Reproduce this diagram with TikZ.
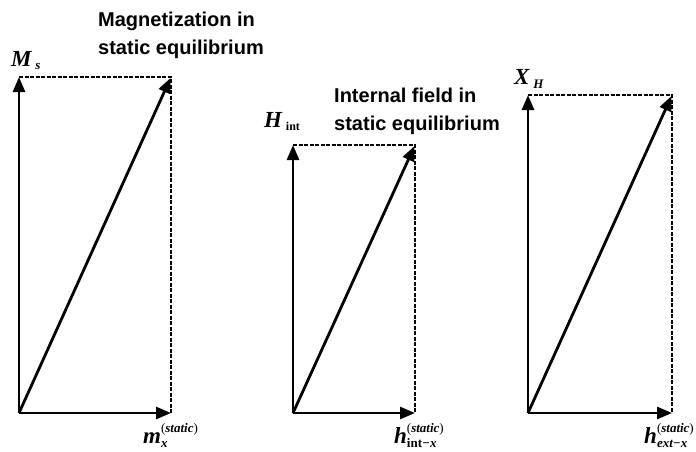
\documentclass[tikz,border=0pt]{standalone}
\usepackage{fontspec}
\setmainfont{Liberation Sans}
\newfontfamily\mfont{Liberation Serif}
\usetikzlibrary{arrows.meta}
\newcommand{\mybi}[1]{{\mfont\bfseries\itshape #1}}
\newcommand{\mybr}[1]{{\mfont\bfseries #1}}
\newcommand{\myrp}[1]{{\mfont #1}}
\newcommand{\bigsz}{\fontsize{23}{23}\selectfont}
\newcommand{\smsz}{\fontsize{13}{13}\selectfont}
\begin{document}
\begin{tikzpicture}[x=1pt,y=-1pt,
  ax/.style={line width=2.8pt,-{Triangle[length=15pt,width=12pt]}},
  dg/.style={line width=2.8pt,-{Triangle[length=15pt,width=12pt]},shorten >=1pt},
  dsh/.style={line width=2pt,dash pattern=on 4pt off 1.5pt},
  title/.style={anchor=base west,inner sep=0pt,font=\fontsize{20}{20}\selectfont\bfseries},
  lab/.style={anchor=base west,inner sep=0pt}]
\useasboundingbox (0,0) rectangle (696,451);
% diagram 1
\coordinate (o1) at (19,413);
\coordinate (t1) at (19,77);
\coordinate (r1) at (171,413);
\coordinate (c1) at (171,77);
\draw[dsh] (t1) -- (c1) -- (r1);
\draw[ax] (o1) -- (t1);
\draw[ax] (o1) -- (r1);
\draw[dg] (o1) -- (c1);
% diagram 2
\coordinate (o2) at (293,413);
\coordinate (t2) at (293,145);
\coordinate (r2) at (415,413);
\coordinate (c2) at (415,145);
\draw[dsh] (t2) -- (c2) -- (r2);
\draw[ax] (o2) -- (t2);
\draw[ax] (o2) -- (r2);
\draw[dg] (o2) -- (c2);
% diagram 3
\coordinate (o3) at (528,413);
\coordinate (t3) at (528,95);
\coordinate (r3) at (672,413);
\coordinate (c3) at (672,95);
\draw[dsh] (t3) -- (c3) -- (r3);
\draw[ax] (o3) -- (t3);
\draw[ax] (o3) -- (r3);
\draw[dg] (o3) -- (c3);
% titles
\node[title] (ttl1a) at (98,26) {Magnetization in};
\node[title] (ttl1b) at (98,54) {static equilibrium};
\node[title] (ttl2a) at (334,102) {Internal field in};
\node[title] (ttl2b) at (334,130) {static equilibrium};
% axis labels
\node[lab] (lms) at (11,66) {\bigsz\mybi{M}\,\raisebox{-3pt}{\smsz\mybi{s}}};
\node[lab] (lhi) at (264,127) {\bigsz\mybi{H}\,\raisebox{-3pt}{\fontsize{12}{12}\selectfont\mybr{int}}};
\node[lab] (lxh) at (514,84) {\bigsz\mybi{X}\,\raisebox{-4pt}{\smsz\mybi{H}}};
\node[lab] (lmx) at (143,443) {\bigsz\mybi{m}\makebox[0pt][l]{\raisebox{11pt}{\smsz\myrp{(}\mybi{static}\myrp{)}}}\raisebox{-4pt}{\smsz\mybi{x}}};
\node[lab] (lhint) at (394,443) {\bigsz\mybi{h}\makebox[0pt][l]{\raisebox{11pt}{\smsz\myrp{(}\mybi{static}\myrp{)}}}\raisebox{-4pt}{\smsz\mybr{int}\mybi{−x}}};
\node[lab] (lhext) at (644,443) {\bigsz\mybi{h}\makebox[0pt][l]{\raisebox{11pt}{\smsz\myrp{(}\mybi{static}\myrp{)}}}\raisebox{-4pt}{\smsz\mybi{ext−x}}};
\end{tikzpicture}
\end{document}
